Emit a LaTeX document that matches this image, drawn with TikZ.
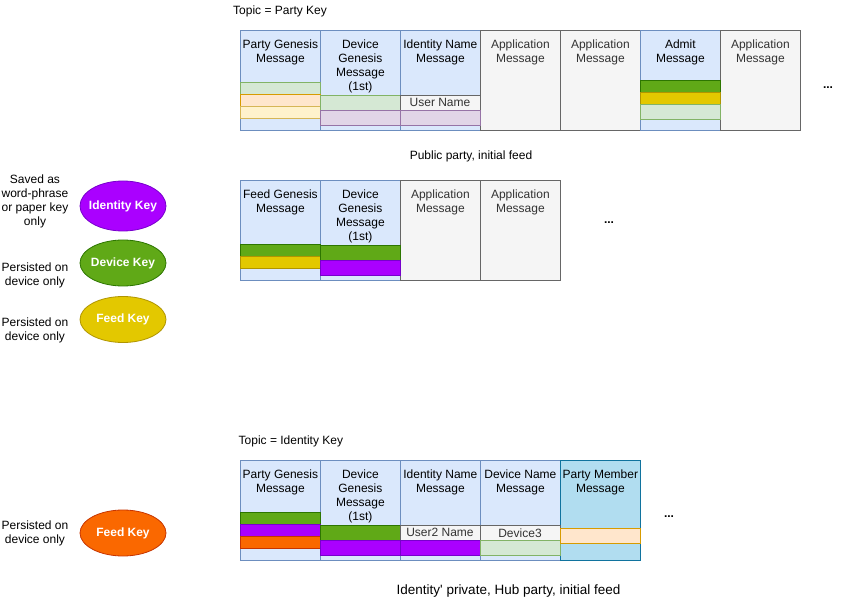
\documentclass[tikz,border=0pt]{standalone}
\usepackage{fontspec}
\setmainfont{Liberation Sans}
\newfontfamily\plainfont{Liberation Sans}
\usetikzlibrary{shapes.geometric}
\definecolor{bluef}{HTML}{DAE8FC}\definecolor{blued}{HTML}{6C8EBF}
\definecolor{grayf}{HTML}{F5F5F5}\definecolor{grayd}{HTML}{666666}\definecolor{grayt}{HTML}{333333}
\definecolor{lgreenf}{HTML}{D5E8D4}\definecolor{lgreend}{HTML}{82B366}
\definecolor{lorangef}{HTML}{FFE6CC}\definecolor{loranged}{HTML}{D79B00}
\definecolor{lyellowf}{HTML}{FFF2CC}\definecolor{lyellowd}{HTML}{D6B656}
\definecolor{lpurplef}{HTML}{E1D5E7}\definecolor{lpurpled}{HTML}{9673A6}
\definecolor{dgreenf}{HTML}{60A917}\definecolor{dgreend}{HTML}{2D7600}
\definecolor{dyellowf}{HTML}{E3C800}\definecolor{dyellowd}{HTML}{B09500}
\definecolor{dpurplef}{HTML}{AA00FF}\definecolor{dpurpled}{HTML}{7700CC}
\definecolor{dorangef}{HTML}{FA6800}\definecolor{doranged}{HTML}{C73500}
\definecolor{pmf}{HTML}{B1DDF0}\definecolor{pmd}{HTML}{10739E}
\begin{document}
\begin{tikzpicture}[x=1pt,y=-1pt,
  every node/.style={font=\fontsize{12}{14}\selectfont},
  msgbox/.style={draw, anchor=north west, minimum width=80pt, minimum height=100pt, inner sep=0pt, line width=0.8pt},
  bluebox/.style={msgbox, fill=bluef, draw=blued},
  graybox/.style={msgbox, fill=grayf, draw=grayd},
  pmbox/.style={msgbox, fill=pmf, draw=pmd},
  boxtext/.style={anchor=north, inner sep=0pt, align=center},
  graytext/.style={boxtext, text=grayt},
  lgreen/.style={fill=lgreenf, draw=lgreend, line width=0.8pt},
  lorange/.style={fill=lorangef, draw=loranged, line width=0.8pt},
  lyellow/.style={fill=lyellowf, draw=lyellowd, line width=0.8pt},
  lpurple/.style={fill=lpurplef, draw=lpurpled, line width=0.8pt},
  dgreen/.style={fill=dgreenf, draw=dgreend, line width=0.8pt},
  dyellow/.style={fill=dyellowf, draw=dyellowd, line width=0.8pt},
  dpurple/.style={fill=dpurplef, draw=dpurpled, line width=0.8pt},
  dorange/.style={fill=dorangef, draw=doranged, line width=0.8pt},
  lgray/.style={fill=grayf, draw=grayd, line width=0.8pt},
  keyell/.style={ellipse, draw, minimum width=86pt, minimum height=46pt, inner sep=0pt, text=white, font=\fontsize{12}{14}\selectfont\bfseries, line width=0.8pt},
  lbl/.style={align=center, inner sep=0pt},
  dots/.style={inner sep=0pt, font=\fontsize{12}{14}\selectfont\bfseries}
]
\useasboundingbox[fill=white] (0,0) rectangle (851,609);

% ---------- top row ----------
\node[anchor=west, inner sep=0pt] (t1) at (233,11) {Topic = Party Key};
\node[bluebox] (a1) at (240,30) {};
\node[bluebox] (a2) at (320,30) {};
\node[bluebox] (a3) at (400,30) {};
\node[graybox] (a4) at (480,30) {};
\node[graybox] (a5) at (560,30) {};
\node[bluebox] (a6) at (640,30) {};
\node[graybox] (a7) at (720,30) {};
\draw[lgreen] (240,82) rectangle (320,94);
\draw[lorange] (240,94) rectangle (320,106);
\draw[lyellow] (240,106) rectangle (320,118);
\draw[lgreen] (320,95.3) rectangle (400,110.3);
\draw[lpurple] (320,110.3) rectangle (400,125.3);
\draw[lgray] (400,95.3) rectangle (480,110.3);
\draw[lpurple] (400,110.3) rectangle (480,125.3);
\draw[dgreen] (640,80.5) rectangle (720,92.3);
\draw[dyellow] (640,92.3) rectangle (720,104.3);
\draw[lgreen] (640,104.3) rectangle (720,119.5);
\node[boxtext] (a1t) at ([yshift=-9.5pt]a1.north) {Party Genesis\\Message};
\node[boxtext] (a2t) at ([yshift=-9.5pt]a2.north) {Device\\Genesis\\Message\\(1st)};
\node[boxtext] (a3t) at ([yshift=-9.5pt]a3.north) {Identity Name\\Message};
\node[graytext] (a4t) at ([yshift=-9.5pt]a4.north) {Application\\Message};
\node[graytext] (a5t) at ([yshift=-9.5pt]a5.north) {Application\\Message};
\node[boxtext] (a6t) at ([yshift=-9.5pt]a6.north) {Admit\\Message};
\node[graytext] (a7t) at ([yshift=-9.5pt]a7.north) {Application\\Message};
\node[text=grayt, inner sep=0pt] (un) at (440,102.8) {User Name};
\node[dots] (d1) at (828,88) {...};
\node[inner sep=0pt] (c1) at (471,156) {Public party, initial feed};

% ---------- middle row ----------
\node[bluebox] (b1) at (240,180) {};
\node[bluebox] (b2) at (320,180) {};
\node[graybox] (b3) at (400,180) {};
\node[graybox] (b4) at (480,180) {};
\draw[dgreen] (240,244.3) rectangle (320,256.3);
\draw[dyellow] (240,256.3) rectangle (320,268.3);
\draw[dgreen] (320,245.3) rectangle (400,260.3);
\draw[dpurple] (320,260.3) rectangle (400,275.3);
\node[boxtext] (b1t) at ([yshift=-9.5pt]b1.north) {Feed Genesis\\Message};
\node[boxtext] (b2t) at ([yshift=-9.5pt]b2.north) {Device\\Genesis\\Message\\(1st)};
\node[graytext] (b3t) at ([yshift=-9.5pt]b3.north) {Application\\Message};
\node[graytext] (b4t) at ([yshift=-9.5pt]b4.north) {Application\\Message};
\node[dots] (d2) at (609,223) {...};

% ---------- keys ----------
\node[keyell, fill=dpurplef, draw=dpurpled, minimum height=50pt] (k1) at (123,206) {\makebox[0pt]{Identity Key}};
\node[keyell, fill=dgreenf, draw=dgreend] (k2) at (123,263) {\makebox[0pt]{Device Key}};
\node[keyell, fill=dyellowf, draw=dyellowd] (k3) at (123,319.5) {\makebox[0pt]{Feed Key}};
\node[keyell, fill=dorangef, draw=doranged] (k4) at (123,533) {\makebox[0pt]{Feed Key}};
\node[lbl] (l1) at (35,201) {Saved as\\word-phrase\\or paper key\\only};
\node[lbl] (l2) at (35,275.5) {Persisted on\\device only};
\node[lbl] (l3) at (35,330.5) {Persisted on\\device only};
\node[lbl] (l4) at (35,533) {Persisted on\\device only};

% ---------- bottom row ----------
\node[anchor=west, inner sep=0pt] (t2) at (238.5,441) {Topic = Identity Key};
\node[bluebox] (e1) at (240,460) {};
\node[bluebox] (e2) at (320,460) {};
\node[bluebox] (e3) at (400,460) {};
\node[bluebox] (e4) at (480,460) {};
\node[pmbox] (e5) at (560,460) {};
\draw[dgreen] (240,512.3) rectangle (320,524.3);
\draw[dpurple] (240,524.3) rectangle (320,536.3);
\draw[dorange] (240,536.3) rectangle (320,548.3);
\draw[dgreen] (320,525.3) rectangle (400,540.3);
\draw[dpurple] (320,540.3) rectangle (400,555.3);
\draw[lgray] (400,525.3) rectangle (480,540.3);
\draw[dpurple] (400,540.3) rectangle (480,555.3);
\draw[lgray] (480,525.3) rectangle (560,540.3);
\draw[lgreen] (480,540.3) rectangle (560,555.3);
\draw[lorange] (560,528.3) rectangle (640,543.3);
\node[boxtext] (e1t) at ([yshift=-9.5pt]e1.north) {Party Genesis\\Message};
\node[boxtext] (e2t) at ([yshift=-9.5pt]e2.north) {Device\\Genesis\\Message\\(1st)};
\node[boxtext] (e3t) at ([yshift=-9.5pt]e3.north) {Identity Name\\Message};
\node[boxtext] (e4t) at ([yshift=-9.5pt]e4.north) {Device Name\\Message};
\node[boxtext] (e5t) at ([yshift=-9.5pt]e5.north) {Party Member\\Message};
\node[text=grayt, inner sep=0pt] (u2) at (440,532.8) {User2 Name};
\node[text=grayt, inner sep=0pt] (dv3) at (520,532.8) {Device3};
\node[dots] (d3) at (669,517) {...};
\node[inner sep=0pt, font=\plainfont\fontsize{13.5}{16}\selectfont] (c2) at (508.5,591) {Identity' private, Hub party, initial feed};
\end{tikzpicture}
\end{document}
